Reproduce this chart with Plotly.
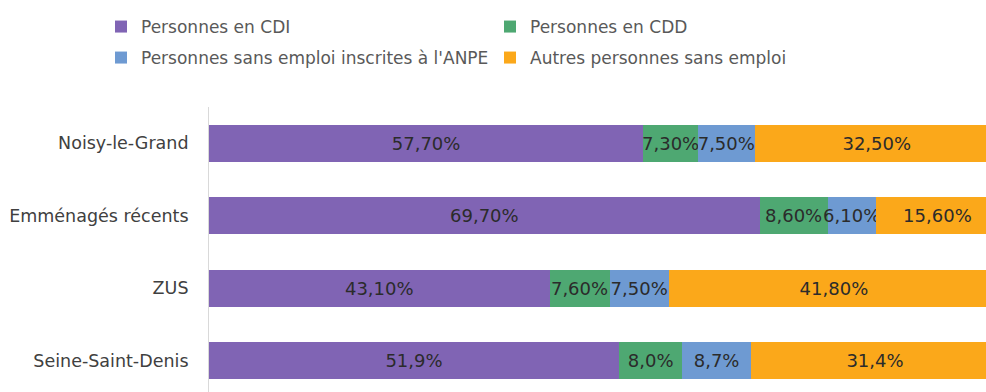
import plotly.graph_objects as go

# Répartition de la population active par statut d'emploi
categories = ["Noisy-le-Grand", "Emménagés récents", "ZUS", "Seine-Saint-Denis"]
label_decimals = [2, 2, 2, 1]

series_names = [
    "Personnes en CDI",
    "Personnes en CDD",
    "Personnes sans emploi inscrites à l'ANPE",
    "Autres personnes sans emploi",
]
cdi = [57.7, 69.7, 43.1, 51.9]
cdd = [7.3, 8.6, 7.6, 8.0]
anpe = [7.5, 6.1, 7.5, 8.7]
autres = [32.5, 15.6, 41.8, 31.4]

colors = ["#8064B4", "#4EA872", "#6E9AD2", "#FBA81A"]

# one legend box per entry, laid out as a 2 x 2 grid above the plot
legend_ids = ["legend", "legend2", "legend3", "legend4"]
legend_x_px = [101, 490, 101, 490]
legend_y_px = [27, 27, 58, 58]

FONT = "DejaVu Sans"
W, H = 986, 392


def fmt(v, d):
    return f"{v:.{d}f}".replace(".", ",") + "%"


fig = go.Figure()
for name, vals, col, lg in zip(series_names, [cdi, cdd, anpe, autres], colors, legend_ids):
    fig.add_trace(go.Bar(
        y=categories,
        x=vals,
        name=name,
        orientation="h",
        marker=dict(color=col, line=dict(width=0)),
        text=[fmt(v, d) for v, d in zip(vals, label_decimals)],
        textposition="inside",
        insidetextanchor="middle",
        textangle=0,
        constraintext="none",
        insidetextfont=dict(family=FONT, size=18, color="#2B2B2B"),
        legend=lg,
        hoverinfo="skip",
    ))

legends = {}
for lg, lx, ly in zip(legend_ids, legend_x_px, legend_y_px):
    legends[lg] = dict(
        orientation="h",
        xref="container",
        yref="container",
        xanchor="left",
        yanchor="middle",
        x=lx / W,
        y=1 - ly / H,
        font=dict(family=FONT, size=17, color="#595959"),
        bgcolor="rgba(0,0,0,0)",
    )

fig.update_layout(
    width=W,
    height=H,
    margin=dict(l=209, r=0, t=107, b=0, pad=0),
    paper_bgcolor="white",
    plot_bgcolor="white",
    barmode="stack",
    barnorm="percent",
    bargap=0.49,
    showlegend=True,
    **legends,
    xaxis=dict(
        range=[0, 98.35],
        visible=False,
        showgrid=False,
        zeroline=False,
    ),
    yaxis=dict(
        categoryorder="array",
        categoryarray=categories,
        range=[3.43, -0.5],
        showgrid=False,
        zeroline=False,
        showline=True,
        linecolor="#D9D9D9",
        linewidth=1,
        ticks="",
        ticklabelstandoff=16,
        tickfont=dict(family=FONT, size=17.5, color="#404040"),
    ),
)

fig.write_html("out.html")
